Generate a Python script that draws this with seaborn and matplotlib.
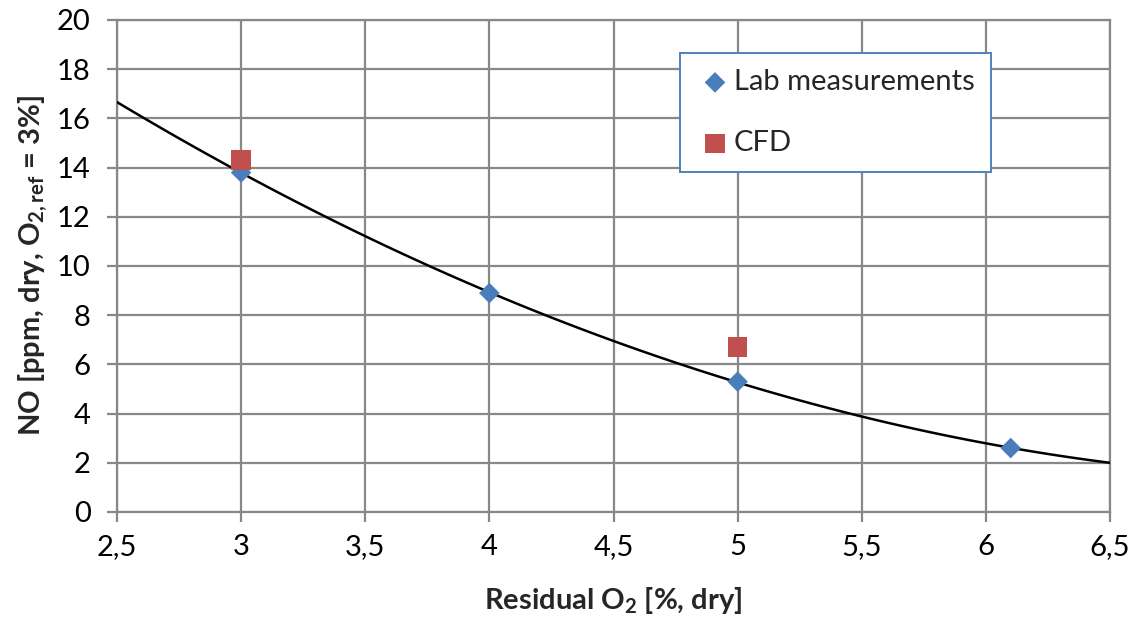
import matplotlib
matplotlib.use("Agg")
import matplotlib.pyplot as plt
import seaborn as sns
import numpy as np
import pandas as pd

# ---- data ----
lab_o2 = [3.0, 4.0, 5.0, 6.1]
lab_no = [13.8, 8.9, 5.3, 2.6]
cfd_o2 = [3.0, 5.0]
cfd_no = [14.3, 6.7]
x_ticks = [2.5, 3.0, 3.5, 4.0, 4.5, 5.0, 5.5, 6.0, 6.5]
x_tick_labels = ["2,5", "3", "3,5", "4", "4,5", "5", "5,5", "6", "6,5"]
y_ticks = [0, 2, 4, 6, 8, 10, 12, 14, 16, 18, 20]

sns.set_theme(style="white")
plt.rcParams['font.family'] = ['Lato', 'DejaVu Sans']
plt.rcParams['mathtext.fontset'] = 'custom'
plt.rcParams['mathtext.rm'] = 'Lato'
plt.rcParams['mathtext.bf'] = 'Lato:bold'
plt.rcParams['mathtext.it'] = 'Lato:italic'

grid_c = "#888888"
fig = plt.figure(figsize=(11.47, 6.17), dpi=100)
ax = fig.add_axes([117/1147, 1-512/617, (1110-117)/1147, (512-20)/617])
ax.set_xlim(2.5, 6.5)
ax.set_ylim(0, 20)

lab = pd.DataFrame({"o2": lab_o2, "no": lab_no})
cfd = pd.DataFrame({"o2": cfd_o2, "no": cfd_no})

sns.regplot(data=lab, x="o2", y="no", order=2, ci=None, truncate=False,
            scatter=False, ax=ax, line_kws=dict(color="black", lw=1.8, zorder=3))
sns.scatterplot(data=lab, x="o2", y="no", marker="D", s=110, color="#4A7EBB",
                edgecolor="none", ax=ax, zorder=4, label="Lab measurements")
sns.scatterplot(data=cfd, x="o2", y="no", marker="s", s=200, color="#C0504D",
                edgecolor="none", ax=ax, zorder=5, label="CFD")

ax.set_xlim(2.5, 6.5)
ax.set_ylim(0, 20)
ax.set_xticks(x_ticks)
ax.set_xticklabels(x_tick_labels)
ax.set_yticks(y_ticks)
ax.grid(True, color=grid_c, lw=1.6)
ax.set_axisbelow(True)
for s in ax.spines.values():
    s.set_color(grid_c)
    s.set_linewidth(1.6)
ax.tick_params(axis="both", which="major", length=7, width=1.6, color=grid_c,
               labelsize=21, direction="out", labelcolor="black")
ax.tick_params(axis="y", pad=12)
ax.tick_params(axis="x", pad=9)
ax.xaxis.set_ticks_position("bottom")
ax.yaxis.set_ticks_position("left")

ax.set_xlabel(r"Residual O$_\mathbf{2}$ [%, dry]", fontsize=21, fontweight="bold", labelpad=18)
ax.set_ylabel(r"NO [ppm, dry, O$_\mathbf{2,ref}$ = 3%]", fontsize=21, fontweight="bold", labelpad=5)

leg = ax.legend(loc="upper left", bbox_to_anchor=(680/1147, 1-53/617),
                bbox_transform=fig.transFigure, frameon=True, fancybox=False,
                fontsize=21, labelspacing=1.2, handletextpad=0.0, borderpad=0.55,
                handlelength=1.3, borderaxespad=0)
leg.get_frame().set_edgecolor("#4F81BD")
leg.get_frame().set_linewidth(1.4)
leg.get_frame().set_facecolor("white")
leg.get_frame().set_alpha(1)
leg.set_zorder(10)

fig.savefig("out.png", dpi=100)
